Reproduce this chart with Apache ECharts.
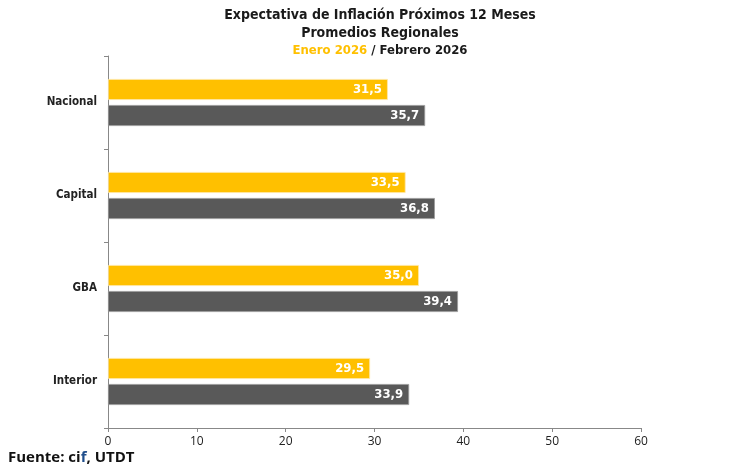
<!DOCTYPE html>
<html><head><meta charset="utf-8">
<script src="https://cdn.jsdelivr.net/npm/echarts@6/dist/echarts.min.js"></script>
<style>html,body{margin:0;padding:0;background:#fff}#c{width:730px;height:476px}</style>
</head><body><div id="c"></div>
<script>
const categories = ['Nacional', 'Capital', 'GBA', 'Interior'];
const enero2026 = [31.5, 33.5, 35.0, 29.5];
const febrero2026 = [35.7, 36.8, 39.4, 33.9];
const xTicks = [0, 10, 20, 30, 40, 50, 60];

const chart = echarts.init(document.getElementById('c'));
const fmt = p => p.value.toFixed(1).replace('.', ',');
const titleFont = 'DejaVu Sans Condensed, DejaVu Sans, sans-serif';
chart.setOption({
  animation: false,
  title: [{
    text: 'Expectativa de Inflación Próximos 12 Meses\nPromedios Regionales',
    left: 375, top: 1, textAlign: 'center',
    textStyle: { fontFamily: titleFont, fontWeight: 'bold', fontSize: 14, color: '#1a1a1a', lineHeight: 18 }
  }, {
    text: '{a|Enero 2026} / Febrero 2026',
    left: 375, top: 39, textAlign: 'center',
    textStyle: { fontFamily: titleFont, fontWeight: 'bold', fontSize: 13, color: '#1a1a1a',
      rich: { a: { fontFamily: titleFont, fontWeight: 'bold', fontSize: 13, color: '#FFC000' } } }
  }],
  graphic: [{
    type: 'text', left: 8, top: 450,
    style: { text: 'Fuente: ci{b|f}, UTDT', fontFamily: 'Open Sans, sans-serif', fontWeight: 'bold', fontSize: 15, fill: '#111',
      rich: { b: { fontFamily: 'Open Sans, sans-serif', fontWeight: 'bold', fontSize: 15, fill: '#1f4e8c', color: '#1f4e8c' } } }
  }],
  grid: { left: 108, right: 89, top: 56, bottom: 48 },
  xAxis: {
    type: 'value', min: xTicks[0], max: xTicks[xTicks.length - 1], interval: 10,
    splitLine: { show: false },
    axisLine: { show: true, lineStyle: { color: '#888' } },
    axisTick: { show: true, length: 4, lineStyle: { color: '#888' } },
    axisLabel: { color: '#222', fontSize: 12, fontFamily: 'Open Sans, sans-serif', margin: 8 }
  },
  yAxis: {
    type: 'category', data: categories, inverse: true,
    axisLine: { show: true, lineStyle: { color: '#888' } },
    axisTick: { show: true, length: 4, lineStyle: { color: '#888' } },
    axisLabel: { color: '#222', fontSize: 11.5, fontWeight: 'bold', fontFamily: titleFont, margin: 11 }
  },
  series: [{
    name: 'Enero 2026', type: 'bar', data: enero2026, barWidth: 21, barGap: '24%',
    itemStyle: { color: '#FFC000', borderColor: '#FFE9A8', borderWidth: 0.8 },
    label: { show: true, position: 'insideRight', formatter: fmt, color: '#fff', fontWeight: 'bold', fontSize: 13, fontFamily: titleFont, distance: 6 }
  }, {
    name: 'Febrero 2026', type: 'bar', data: febrero2026, barWidth: 21, barGap: '24%',
    itemStyle: { color: '#595959', borderColor: '#9a9a9a', borderWidth: 0.8 },
    label: { show: true, position: 'insideRight', formatter: fmt, color: '#fff', fontWeight: 'bold', fontSize: 13, fontFamily: titleFont, distance: 6 }
  }]
});
</script></body></html>
